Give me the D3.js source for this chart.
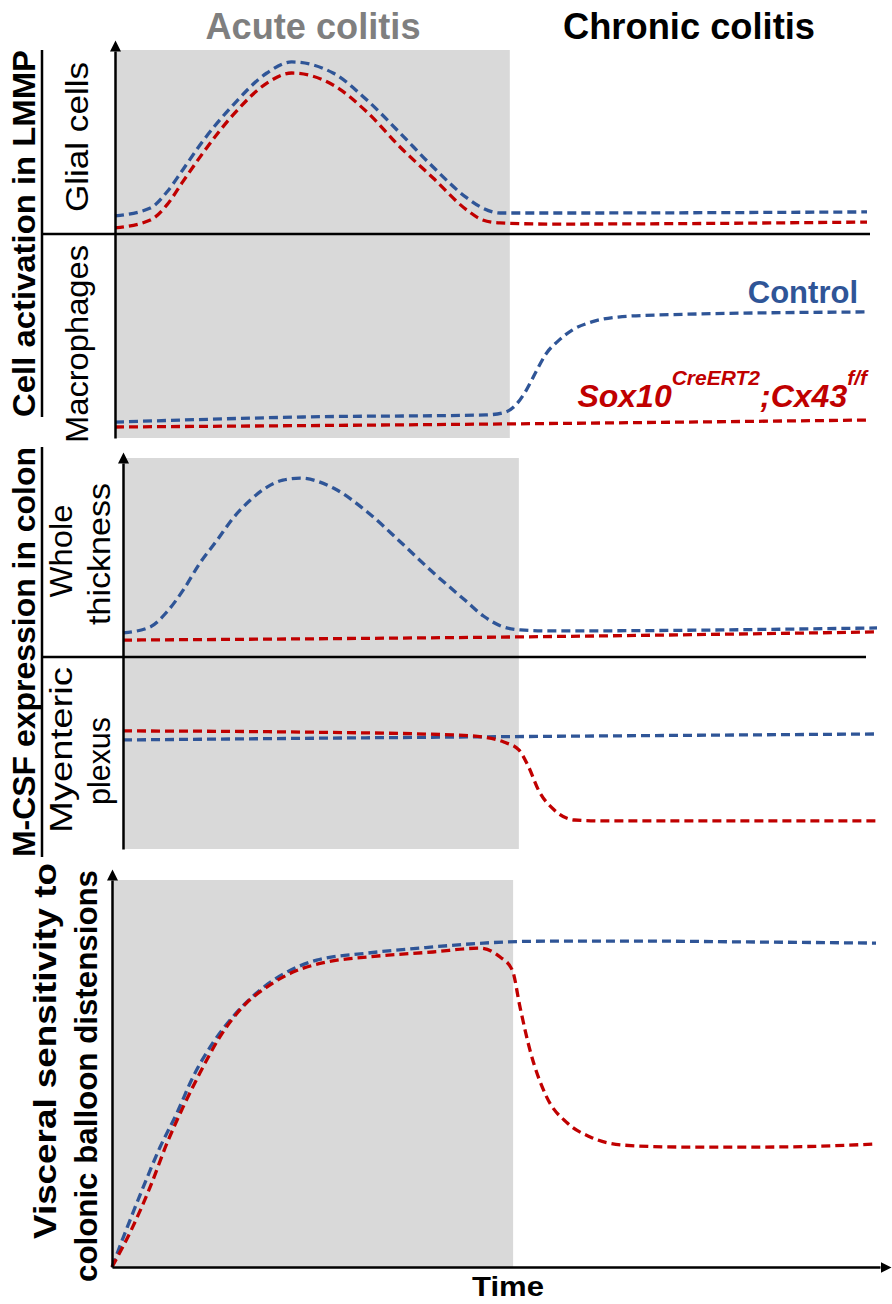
<!DOCTYPE html>
<html>
<head>
<meta charset="utf-8">
<script src="https://cdn.jsdelivr.net/npm/d3@7"></script>
<style>
  body { margin: 0; background: #fff; }
  text { font-family: Arial, "Liberation Sans", sans-serif; }
</style>
</head>
<body>
<svg id="chart" width="892" height="1304"></svg>
<script>
// Time runs 0-100 on every panel, the acute phase covers the first part
const acuteEnd = 52.5;

// Glial cells (LMMP)
const glialTime = [0, 4.7, 6.9, 9, 11.3, 15.7, 20.2, 23.5, 29, 33.5, 37.9, 42.3, 46.8, 48.9, 51.2, 57.8, 100];
const glialControl = [9.8, 14.1, 22.8, 34.8, 48.4, 70.1, 87.5, 93.5, 87.5, 72.8, 54.9, 36.4, 19.6, 14.1, 11.4, 11.4, 12];
const glialCx43 = [3.3, 7.6, 15.8, 28.3, 41.8, 64.7, 82, 87.5, 81, 66.3, 47.3, 30.4, 13, 7.6, 6, 5.4, 6.5];

// Macrophages (LMMP)
const macroTime = [0, 25, 49.3, 51.9, 53.3, 54.7, 56.1, 57.4, 58.8, 60.8, 63.4, 66.9, 72.2, 100];
const macroControl = [7.8, 10.3, 11.3, 12.7, 16.2, 23.5, 33.3, 41.7, 47.1, 52.9, 56.9, 59.3, 60.3, 61.8];
const macroCx43Time = [0, 52, 100];
const macroCx43 = [5.4, 6.9, 8.8];

// M-CSF, whole thickness
const wholeTime = [0, 3.6, 5.8, 8, 10.2, 12.5, 14.6, 16.9, 19.1, 21.2, 23.5, 27.9, 32.4, 36.8, 41.2, 45.5, 47.8, 50.1, 52.7, 56.7, 100];
const wholeControl = [12.1, 15.1, 22.6, 33.7, 47.2, 58.8, 69.8, 78.9, 85.4, 88.9, 89.9, 84.9, 72.9, 57.8, 42.2, 28.1, 20.6, 15.6, 13.6, 13.1, 14.6];
const wholeCx43Time = [0, 50, 100];
const wholeCx43 = [8.5, 10, 12.6];

// M-CSF, myenteric plexus
const plexusControlTime = [0, 44, 100];
const plexusControl = [56.8, 58.3, 59.9];
const plexusCx43Time = [0, 23.7, 43.8, 47.8, 50.5, 52.5, 53.8, 55.1, 57.2, 59.9, 63.8, 100];
const plexusCx43 = [61.5, 60.9, 59.4, 58.3, 55.7, 51.6, 42.7, 30.7, 20.3, 15.1, 14.6, 14.6];

// Visceral sensitivity
const visceralTime = [0, 2, 4.1, 6.3, 8.5, 10.6, 13.2, 15.8, 19.4, 22.9, 26.8, 33.4, 42, 48.6, 51.7, 57.3, 70, 83.1, 100];
const visceralControl = [0, 10.3, 20.7, 31, 39.8, 49.1, 57.9, 64.6, 71.6, 76.2, 79.3, 81.1, 82.7, 83.7, 84, 84.2, 84.2, 84, 83.7];
const visceralCx43Time = [0, 2.7, 5, 7.2, 9.3, 11.5, 14.1, 17.1, 20.3, 23.7, 28.1, 33.4, 42, 48.2, 50.8, 52.4, 53.4, 54.7, 56.9, 59.6, 62.6, 66.9, 74.3, 85.2, 94, 100];
const visceralCx43 = [0, 10.3, 20.7, 32, 41.3, 50.1, 59.4, 67.2, 72.4, 76.2, 78.8, 80.1, 81.4, 82.4, 80.1, 76.7, 67.2, 56.1, 43.9, 37.2, 33.6, 31.5, 31, 31, 31.3, 31.8];

const blue = '#2f5597';
const red = '#c00000';

const svg = d3.select('#chart');

// arrow head for the axes
svg.append('defs').append('marker')
  .attr('id', 'arrow')
  .attr('viewBox', '0 -6 12 12')
  .attr('refX', 0)
  .attr('refY', 0)
  .attr('markerWidth', 12)
  .attr('markerHeight', 12)
  .attr('markerUnits', 'userSpaceOnUse')
  .attr('orient', 'auto')
  .append('path')
  .attr('d', 'M0,-5.5L11,0L0,5.5Z')
  .attr('fill', '#000');

const panels = [
  { x0: 115, x1: 867, axisTop: 51, axisBottom: 438, shadeTop: 50, shadeBottom: 438,
    divider: { y: 234, from: 43, to: 870 },
    subs: [
      { base: 234, top: 50, series: [[glialTime, glialControl, blue], [glialTime, glialCx43, red]] },
      { base: 438, top: 234, series: [[macroTime, macroControl, blue], [macroCx43Time, macroCx43, red]] }
    ] },
  { x0: 123, x1: 877, axisTop: 463, axisBottom: 849, shadeTop: 458, shadeBottom: 849,
    divider: { y: 657, from: 43, to: 866 },
    subs: [
      { base: 657, top: 458, series: [[wholeTime, wholeControl, blue], [wholeCx43Time, wholeCx43, red]] },
      { base: 849, top: 657, series: [[plexusControlTime, plexusControl, blue], [plexusCx43Time, plexusCx43, red]] }
    ] },
  { x0: 112, x1: 876, axisTop: 880, axisBottom: 1267, shadeTop: 880, shadeBottom: 1267,
    subs: [
      { base: 1267, top: 880, series: [[visceralTime, visceralControl, blue], [visceralCx43Time, visceralCx43, red]] }
    ] }
];

panels.forEach(p => {
  const x = d3.scaleLinear().domain([0, 100]).range([p.x0, p.x1]);

  svg.append('rect')
    .attr('x', x(0))
    .attr('y', p.shadeTop)
    .attr('width', x(acuteEnd) - x(0))
    .attr('height', p.shadeBottom - p.shadeTop)
    .attr('fill', '#d9d9d9');

  if (p.divider) {
    svg.append('line')
      .attr('x1', p.divider.from).attr('x2', p.divider.to)
      .attr('y1', p.divider.y).attr('y2', p.divider.y)
      .attr('stroke', '#000').attr('stroke-width', 2.5);
  }

  p.subs.forEach(s => {
    const y = d3.scaleLinear().domain([0, 100]).range([s.base, s.top]);
    const line = d3.line()
      .x(d => x(d[0]))
      .y(d => y(d[1]))
      .curve(d3.curveMonotoneX);
    s.series.forEach(([times, values, color]) => {
      svg.append('path')
        .datum(d3.zip(times, values))
        .attr('d', line)
        .attr('fill', 'none')
        .attr('stroke', color)
        .attr('stroke-width', 3.3)
        .attr('stroke-dasharray', '9,5');
    });
  });

  const axisY = d3.scaleLinear().range([p.axisBottom, p.axisTop]);
  const g = svg.append('g')
    .attr('transform', `translate(${p.x0},0)`)
    .call(d3.axisLeft(axisY).tickValues([]).tickSizeOuter(0));
  g.select('.domain')
    .attr('stroke', '#000')
    .attr('stroke-width', 2.5)
    .attr('marker-end', 'url(#arrow)');
});

// time axis
const timeAxis = d3.scaleLinear().range([112, 880]);
svg.append('g')
  .attr('transform', 'translate(0,1267)')
  .call(d3.axisBottom(timeAxis).tickValues([]).tickSizeOuter(0))
  .select('.domain')
  .attr('stroke', '#000')
  .attr('stroke-width', 2.5)
  .attr('marker-end', 'url(#arrow)');

svg.append('text')
  .attr('x', 508).attr('y', 1296)
  .attr('text-anchor', 'middle')
  .attr('font-size', 28).attr('font-weight', 'bold')
  .attr('textLength', 72).attr('lengthAdjust', 'spacingAndGlyphs')
  .text('Time');

// phase headers
svg.append('text')
  .attr('x', 313).attr('y', 39)
  .attr('text-anchor', 'middle')
  .attr('font-size', 36).attr('font-weight', 'bold')
  .attr('fill', '#7f7f7f')
  .attr('textLength', 215).attr('lengthAdjust', 'spacingAndGlyphs')
  .text('Acute colitis');

svg.append('text')
  .attr('x', 689).attr('y', 39)
  .attr('text-anchor', 'middle')
  .attr('font-size', 36).attr('font-weight', 'bold')
  .attr('fill', '#000')
  .attr('textLength', 252).attr('lengthAdjust', 'spacingAndGlyphs')
  .text('Chronic colitis');

// rotated left labels
function vlabel(txt, bx, cy, size, weight, len) {
  svg.append('text')
    .attr('transform', `translate(${bx},${cy}) rotate(-90)`)
    .attr('text-anchor', 'middle')
    .attr('font-size', size)
    .attr('font-weight', weight)
    .attr('textLength', len)
    .attr('lengthAdjust', 'spacingAndGlyphs')
    .text(txt);
}

vlabel('Cell activation in LMMP', 35, 233.5, 32, 'bold', 367);
vlabel('M-CSF expression in colon', 35, 652, 32, 'bold', 410);
vlabel('Glial cells', 88, 137, 32, 'normal', 150);
vlabel('Macrophages', 88, 344, 32, 'normal', 198);
vlabel('Whole', 72, 551, 32, 'normal', 93);
vlabel('thickness', 110, 554, 32, 'normal', 142);
vlabel('Myenteric', 72, 750, 32, 'normal', 166);
vlabel('plexus', 110, 761, 32, 'normal', 88);
vlabel('Visceral sensitivity to', 56, 1051, 32, 'bold', 376);
vlabel('colonic balloon distensions', 97, 1076, 32, 'bold', 412);

// underlines of the two bold titles
[[50, 417], [447, 857]].forEach(([a, b]) => {
  svg.append('line')
    .attr('x1', 42).attr('x2', 42)
    .attr('y1', a).attr('y2', b)
    .attr('stroke', '#000').attr('stroke-width', 2.5);
});

// legend
svg.append('text')
  .attr('x', 858).attr('y', 303)
  .attr('text-anchor', 'end')
  .attr('font-size', 31).attr('font-weight', 'bold')
  .attr('fill', blue)
  .text('Control');

const leg = svg.append('text')
  .attr('x', 867).attr('y', 407)
  .attr('text-anchor', 'end')
  .attr('font-size', 32).attr('font-weight', 'bold')
  .attr('font-style', 'italic')
  .attr('fill', red);
leg.append('tspan').text('Sox10');
leg.append('tspan').attr('font-size', 21).attr('dy', -22).text('CreERT2');
leg.append('tspan').attr('dy', 22).text(';Cx43');
leg.append('tspan').attr('font-size', 21).attr('dy', -22).text('f/f');
</script>
</body>
</html>
